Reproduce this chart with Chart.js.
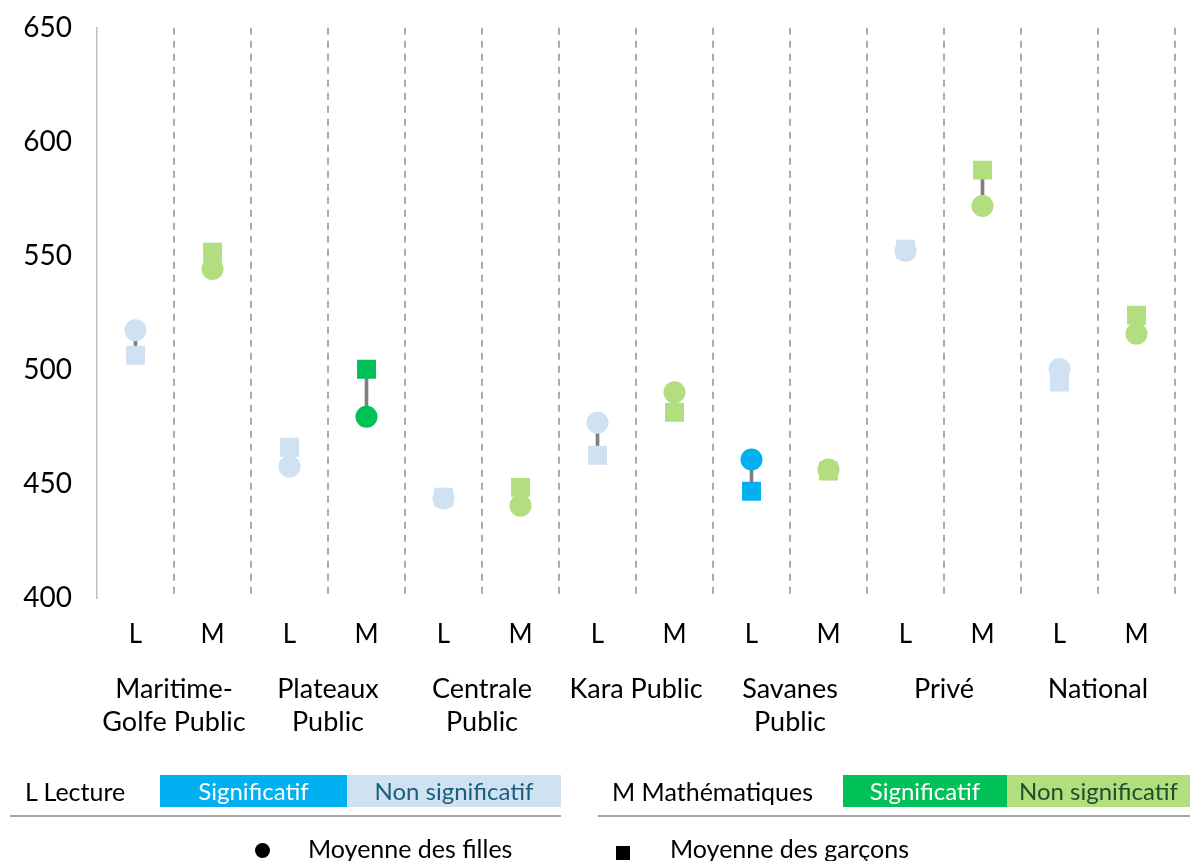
<!DOCTYPE html>
<html>
<head>
<meta charset="utf-8">
<script src="https://cdn.jsdelivr.net/npm/chart.js@4"></script>
<style>
  html, body { margin: 0; padding: 0; background: #fff; }
  body { width: 1190px; height: 861px; position: relative; overflow: hidden; font-family: Lato, "Open Sans", sans-serif; }
  #wrap { position: absolute; left: 0; top: -14px; width: 1190px; height: 875px; }
  .lg { position: absolute; font-size: 25px; line-height: 32px; white-space: nowrap; color: #000; }
  .box { position: absolute; height: 32px; line-height: 32px; text-align: center; font-size: 24px; white-space: nowrap; }
  .rule { position: absolute; height: 2px; background: #a6a6a6; }
</style>
</head>
<body>
<div id="wrap"><canvas id="c" width="1190" height="875"></canvas></div>

<div class="lg" style="left:25px; top:775px;">L Lecture</div>
<div class="box" style="left:160px; top:775px; width:187px; background:#00b0f0; color:#fff;">Significatif</div>
<div class="box" style="left:347px; top:775px; width:214px; background:#d0e1f2; color:#1a5e7c;">Non significatif</div>
<div class="rule" style="left:10px; top:815px; width:551px;"></div>

<div class="lg" style="left:612px; top:775px;">M Mathématiques</div>
<div class="box" style="left:843px; top:775px; width:164px; background:#00c058; color:#fff;">Significatif</div>
<div class="box" style="left:1007px; top:775px; width:183px; background:#b2de80; color:#1d4f2a;">Non significatif</div>
<div class="rule" style="left:598px; top:815px; width:592px;"></div>

<div style="position:absolute; left:255px; top:843px; width:15px; height:15px; border-radius:50%; background:#000;"></div>
<div class="lg" style="left:308px; top:832px;">Moyenne des filles</div>
<div style="position:absolute; left:616px; top:846px; width:14px; height:14px; background:#000;"></div>
<div class="lg" style="left:670px; top:832px;">Moyenne des garçons</div>

<script>
// ---- data ----
const categories = ['L','M','L','M','L','M','L','M','L','M','L','M','L','M'];
const groupLabels = [['Maritime-','Golfe Public'],['Plateaux','Public'],['Centrale','Public'],['Kara Public'],['Savanes','Public'],['Privé'],['National']];
const filles  = [517.4, 544.3, 457.6, 479.5, 443.6, 440.5, 476.8, 490.2, 460.7, 456.3, 552.2, 571.9, 500.4, 515.9];
const garcons = [506.4, 551.6, 466.1, 500.3, 444.2, 448.5, 462.6, 481.4, 446.8, 455.7, 552.9, 587.6, 494.7, 524.0];
const significatif = [false,false,false,true,false,false,false,false,true,false,false,false,false,false];
const yTicks = [400, 450, 500, 550, 600, 650];

const colL = { sig: '#00b0f0', ns: '#d0e1f2' };
const colM = { sig: '#00c058', ns: '#b2de80' };
const pointColors = categories.map((c, i) => {
  const p = c === 'L' ? colL : colM;
  return significatif[i] ? p.sig : p.ns;
});
const connectors = filles.map((f, i) => [Math.min(f, garcons[i]), Math.max(f, garcons[i])]);

const FONT = 'Lato, "Open Sans", sans-serif';
const X_AXIS_HEIGHT = 263;

const groupLabelPlugin = {
  id: 'groupLabels',
  afterDraw(chart) {
    const ctx = chart.ctx;
    const xs = chart.scales.x;
    const base = chart.chartArea.bottom;
    ctx.save();
    ctx.font = '27px ' + FONT;
    ctx.fillStyle = '#000';
    ctx.textAlign = 'center';
    ctx.textBaseline = 'middle';
    groupLabels.forEach((lines, g) => {
      const x = (xs.getPixelForValue(2 * g) + xs.getPixelForValue(2 * g + 1)) / 2;
      lines.forEach((t, k) => ctx.fillText(t, x, base + 91 + k * 33));
    });
    ctx.restore();
  }
};

new Chart(document.getElementById('c'), {
  type: 'bar',
  data: {
    labels: categories,
    datasets: [
      {
        type: 'line', label: 'Moyenne des filles', data: filles, showLine: false,
        pointStyle: 'circle', pointRadius: 11, pointHoverRadius: 11, pointBorderWidth: 0,
        pointBackgroundColor: pointColors, pointBorderColor: pointColors, order: 1
      },
      {
        type: 'line', label: 'Moyenne des garçons', data: garcons, showLine: false,
        pointStyle: 'rect', pointRadius: 13.4, pointHoverRadius: 13.4, pointBorderWidth: 0,
        pointBackgroundColor: pointColors, pointBorderColor: pointColors, order: 2
      },
      {
        type: 'bar', label: 'écart', data: connectors, backgroundColor: '#7f7f7f',
        barThickness: 3, order: 3
      }
    ]
  },
  options: {
    responsive: false,
    animation: false,
    events: [],
    layout: { padding: { top: 0, right: 15, left: 0, bottom: 0 } },
    plugins: { legend: { display: false }, tooltip: { enabled: false } },
    scales: {
      x: {
        offset: true,
        grid: {
          offset: true,
          drawTicks: false,
          color: (ctx) => (ctx.index === 0 || ctx.index >= categories.length) ? 'rgba(0,0,0,0)' : '#ababab',
          lineWidth: 2
        },
        border: { display: false, dash: [7, 6] },
        ticks: { color: '#000', font: { family: FONT, size: 26 }, padding: 21, maxRotation: 0, autoSkip: false },
        afterFit: (s) => { s.height = X_AXIS_HEIGHT; }
      },
      y: {
        min: 400, max: 650,
        afterBuildTicks: (s) => { s.ticks = yTicks.map(v => ({ value: v })); },
        grid: { display: false, drawTicks: false },
        border: { display: true, color: '#bfbfbf', width: 1.5 },
        ticks: { color: '#000', font: { family: FONT, size: 28 }, padding: 25 },
        afterFit: (s) => { s.width = 97; }
      }
    }
  },
  plugins: [groupLabelPlugin]
});
</script>
</body>
</html>
